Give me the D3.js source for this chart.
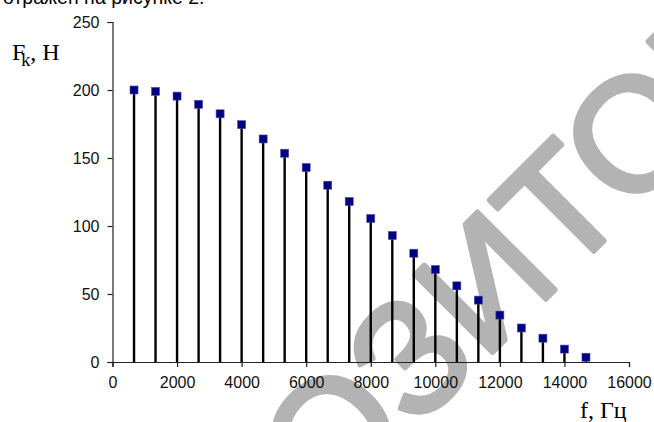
<!DOCTYPE html>
<html>
<head>
<meta charset="utf-8">
<script src="https://cdn.jsdelivr.net/npm/d3@7"></script>
<style>
  html, body { margin: 0; padding: 0; background: #fff; }
  svg { display: block; }
</style>
</head>
<body>
<script>
// Spectrum of harmonic forces: amplitude F_k (N) against frequency f (Hz)
const harmonics = d3.range(1, 23);
const frequencies = [667, 1333, 2000, 2667, 3333, 4000, 4667, 5333, 6000, 6667, 7333,
                     8000, 8667, 9333, 10000, 10667, 11333, 12000, 12667, 13333, 14000, 14667];
const forces = [200, 199, 195.5, 189.5, 182.5, 174.5, 164, 153.5, 143, 130, 118,
                105.5, 93, 80, 68, 56, 45.5, 34.5, 25, 17.5, 9.5, 3.5];
const xTicks = [0, 2000, 4000, 6000, 8000, 10000, 12000, 14000, 16000];
const yTicks = [0, 50, 100, 150, 200, 250];

const W = 654, H = 422;
const svg = d3.select("body").append("svg").attr("width", W).attr("height", H);

// background stamp text, laid diagonally; placed so that the "Т" sits at a fixed spot
const stampWord = "РЕПОЗИТОРИЙ";
const stamp = svg.append("text")
  .attr("font-family", "Liberation Sans, Arial, sans-serif")
  .attr("font-size", 160)
  .attr("fill", "#b3b3b3")
  .attr("stroke", "#b3b3b3")
  .attr("stroke-width", 5)
  .attr("stroke-linejoin", "round")
  .text(stampWord);
{
  const node = stamp.node();
  const iT = stampWord.indexOf("Т");
  const uT = node.getSubStringLength(0, iT) + node.getSubStringLength(iT, 1) / 2;
  const sum = 845, diff = 348 - Math.SQRT2 * uT;   // baseline (x+y) and glyph centre (x-y)
  const ox = (sum + diff) / 2, oy = (sum - diff) / 2;
  stamp.attr("transform", `translate(${ox},${oy}) rotate(-45)`);
}

// cut-off line of the surrounding paragraph
svg.append("text")
  .attr("x", 3).attr("y", 4)
  .attr("font-family", "Liberation Sans, Arial, sans-serif")
  .attr("font-size", 19.5)
  .attr("fill", "#000")
  .text("отражен на рисунке 2.");

const x = d3.scaleLinear().domain([0, 16000]).range([112.5, 629]);
const y = d3.scaleLinear().domain([0, 250]).range([362, 22]);

const axisColor = "#222";

// y axis
const yAxis = svg.append("g")
  .attr("transform", `translate(${x(0)},0)`)
  .call(d3.axisLeft(y).tickValues(yTicks).tickSize(5).tickPadding(8));
// x axis
const xAxis = svg.append("g")
  .attr("transform", `translate(0,${y(0)})`)
  .call(d3.axisBottom(x).tickValues(xTicks).tickSize(5).tickPadding(10).tickFormat(d3.format("d")));

[yAxis, xAxis].forEach(g => {
  g.select(".domain").attr("stroke", axisColor).attr("stroke-width", 1.2);
  g.selectAll(".tick line").attr("stroke", axisColor).attr("stroke-width", 1.2);
  g.selectAll(".tick text")
    .attr("font-family", "Liberation Sans, Arial, sans-serif")
    .attr("font-size", 16)
    .attr("fill", "#111");
});

const data = frequencies.map((f, i) => ({ k: harmonics[i], f, F: forces[i] }));

// stems
svg.append("g").selectAll("line").data(data).join("line")
  .attr("x1", d => x(d.f)).attr("x2", d => x(d.f))
  .attr("y1", d => y(d.F)).attr("y2", y(0))
  .attr("stroke", "#000").attr("stroke-width", 2.4);

// markers
const s = 8;
svg.append("g").selectAll("rect").data(data).join("rect")
  .attr("x", d => x(d.f) - s / 2).attr("y", d => y(d.F) - s / 2)
  .attr("width", s).attr("height", s)
  .attr("fill", "#000080").attr("stroke", "#4a4ab0").attr("stroke-width", 0.6);

// axis titles
const yTitle = svg.append("text")
  .attr("x", 12).attr("y", 60)
  .attr("font-family", "Liberation Serif, Times New Roman, serif")
  .attr("font-size", 24).attr("fill", "#000");
yTitle.append("tspan").text("F");
yTitle.append("tspan").attr("font-size", 18).attr("dy", 6).attr("dx", -4).text("k");
yTitle.append("tspan").attr("dy", -6).text(", H");

svg.append("text")
  .attr("x", 580).attr("y", 418)
  .attr("font-family", "Liberation Serif, Times New Roman, serif")
  .attr("font-size", 24).attr("fill", "#000")
  .text("f, Гц");
</script>
</body>
</html>
